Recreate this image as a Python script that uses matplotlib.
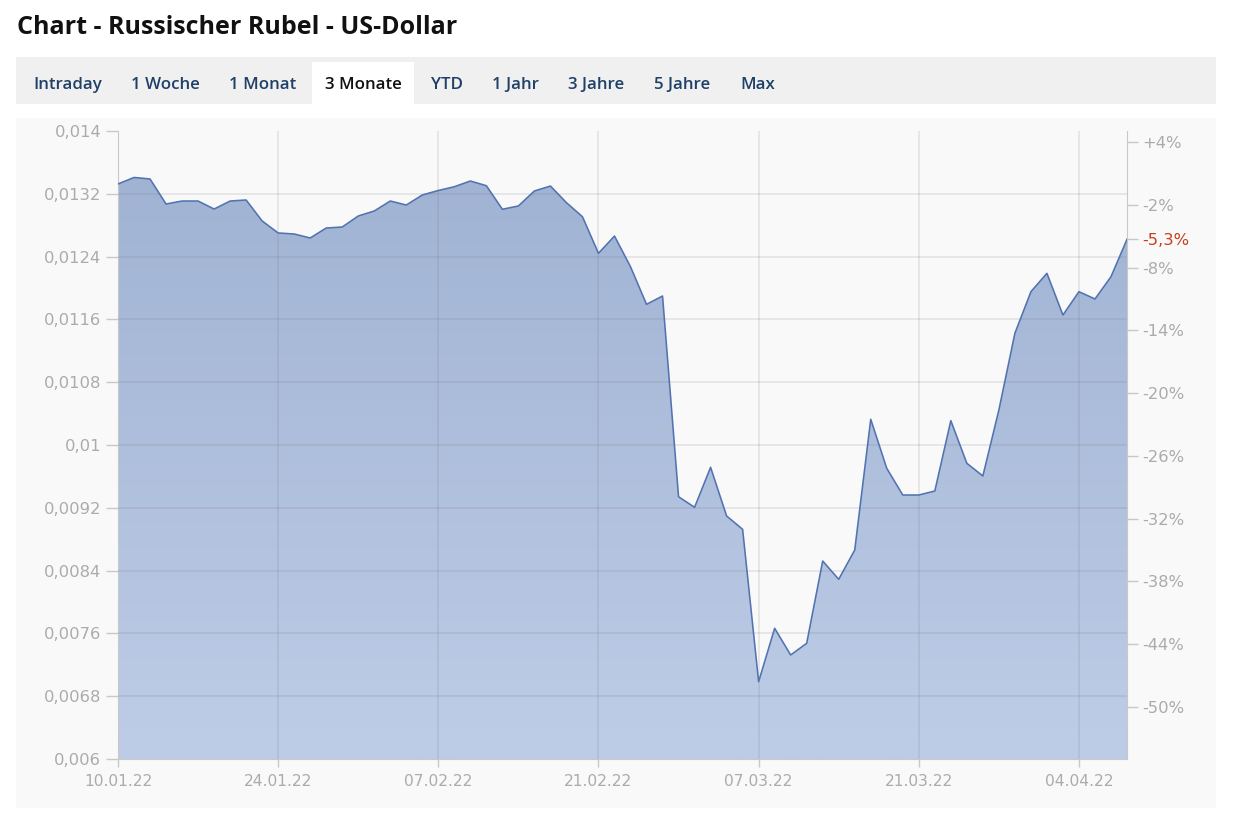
import numpy as np
import matplotlib.pyplot as plt
from matplotlib.patches import Rectangle
from matplotlib.colors import LinearSegmentedColormap

titel = "Chart - Russischer Rubel - US-Dollar"
tabs = ["Intraday", "1 Woche", "1 Monat", "3 Monate", "YTD", "1 Jahr", "3 Jahre", "5 Jahre", "Max"]
tab_x = [33, 131, 229, 325, 431, 492, 568, 654, 740]   # linke Kante in px
aktiv = "3 Monate"

# RUB in USD, ein Wert pro Handelstag ab 10.01.22 (bis 07.04.22)
kurs = [0.013325, 0.013408, 0.013389, 0.013070, 0.013108, 0.013108, 0.013006, 0.013108,
        0.013121, 0.012854, 0.012701, 0.012688, 0.012637, 0.012764, 0.012777, 0.012917,
        0.012981, 0.013108, 0.013057, 0.013185, 0.013242, 0.013290, 0.013363, 0.013303,
        0.013003, 0.013045, 0.013236, 0.013299, 0.013087, 0.012908, 0.012442, 0.012662,
        0.012271, 0.011792, 0.011898, 0.009341, 0.009206, 0.009716, 0.009096, 0.008926,
        0.006985, 0.007665, 0.007325, 0.007474, 0.008522, 0.008289, 0.008662, 0.010327,
        0.009703, 0.009363, 0.009363, 0.009414, 0.010310, 0.009767, 0.009605, 0.010446,
        0.011423, 0.011953, 0.012187, 0.011656, 0.011953, 0.011860, 0.012144, 0.012620]

datum_labels = ["10.01.22", "24.01.22", "07.02.22", "21.02.22", "07.03.22", "21.03.22", "04.04.22"]
y_ticks = [0.006, 0.0068, 0.0076, 0.0084, 0.0092, 0.01, 0.0108, 0.0116, 0.0124, 0.0132, 0.014]
y_labels = ["0,006", "0,0068", "0,0076", "0,0084", "0,0092", "0,01", "0,0108", "0,0116",
            "0,0124", "0,0132", "0,014"]
prozent = [4, -2, -8, -14, -20, -26, -32, -38, -44, -50]

W, H = 1237, 816
fig = plt.figure(figsize=(W / 100, H / 100), dpi=100)
fig.patch.set_facecolor("white")


def fx(px):
    return px / W


def fy(py):
    return 1 - py / H


def rect(x0, y0, x1, y1, farbe):
    fig.patches.append(Rectangle((fx(x0), fy(y1)), (x1 - x0) / W, (y1 - y0) / H,
                                 transform=fig.transFigure, facecolor=farbe,
                                 edgecolor="none", zorder=-5))


fig.text(fx(17), fy(28), titel, fontsize=18, fontweight="bold", family="Open Sans",
         va="center", ha="left", color="#111111")

# Tab-Leiste
rect(16, 57, 1216, 104, "#f0f0f0")
rect(312, 62, 414, 104, "white")
for name, px in zip(tabs, tab_x):
    fig.text(fx(px), fy(85), name, fontsize=12.2, family="Open Sans", fontweight=600,
             color="#111111" if name == aktiv else "#1f4068", va="center", ha="left")

# Chart-Hintergrund
rect(16, 118, 1216, 808, "#f9f9f9")

ax = fig.add_axes([fx(118), fy(759), (1127 - 118) / W, (759 - 131) / H])
ax.set_facecolor("none")

x = np.arange(len(kurs))
xmax = len(kurs) - 1

poly = ax.fill_between(x, kurs, 0.006, facecolor="none", edgecolor="none")
cmap = LinearSegmentedColormap.from_list("blau", ["#9eb1d2", "#becde7"])
img = ax.imshow(np.linspace(0, 1, 256).reshape(-1, 1), cmap=cmap, aspect="auto",
                extent=[0, xmax, 0.006, 0.014], origin="upper", zorder=1)
img.set_clip_path(poly.get_paths()[0], transform=ax.transData)
ax.plot(x, kurs, color="#5273b0", lw=1.15, zorder=4)

for t in y_ticks[1:-1]:
    ax.axhline(t, color=(0.45, 0.45, 0.45, 0.17), lw=1.2, zorder=3)
for t in range(10, xmax, 10):
    ax.axvline(t, color=(0.45, 0.45, 0.45, 0.17), lw=1.2, zorder=3)

ax.set_xlim(0, xmax)
ax.set_ylim(0.006, 0.014)
ax.set_xticks(range(0, xmax, 10))
ax.set_xticklabels(datum_labels)
ax.set_yticks(y_ticks)
ax.set_yticklabels(y_labels)

grau = "#c8c8c8"
ax.tick_params(axis="y", direction="out", length=9, width=1, color=grau,
               labelcolor="#ababab", labelsize=11.8, pad=3)
ax.tick_params(axis="x", direction="out", length=6, width=1, color=grau,
               labelcolor="#ababab", labelsize=11.2, pad=5)
for s in ["left", "bottom", "right"]:
    ax.spines[s].set_color(grau)
ax.spines["top"].set_visible(False)

# rechte Achse in Prozent zum ersten Kurs
basis = kurs[0]
letzter = (kurs[-1] / basis - 1) * 100
ax2 = ax.twinx()
ax2.set_ylim(0.006, 0.014)
r_ticks = [basis * (1 + p / 100) for p in prozent] + [kurs[-1]]
r_labels = [f"{p:+d}%" for p in prozent] + [f"{letzter:.1f}%".replace(".", ",")]
ax2.set_yticks(r_ticks)
ax2.set_yticklabels(r_labels)
ax2.tick_params(axis="y", direction="out", length=8, width=1, color=grau,
                labelcolor="#ababab", labelsize=11.8, pad=3)
ax2.get_yticklabels()[-1].set_color("#c8401e")
for s in ax2.spines.values():
    s.set_visible(False)

fig.savefig("out.png", dpi=100)
